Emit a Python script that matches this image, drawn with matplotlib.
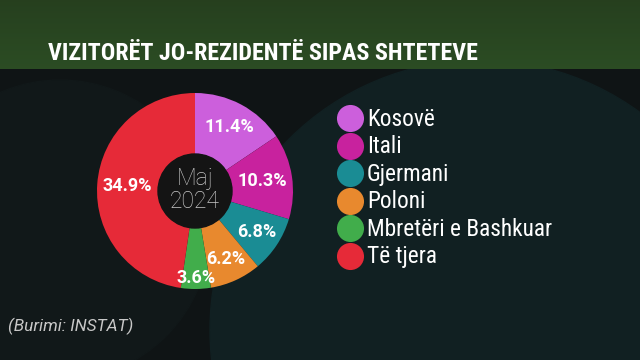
import matplotlib
matplotlib.use("Agg")
import matplotlib.pyplot as plt
import numpy as np
from matplotlib import font_manager
from matplotlib.patches import Circle, Rectangle

# data
countries = ["Kosovë", "Itali", "Gjermani", "Poloni", "Mbretëri e Bashkuar", "Të tjera"]
shares = [11.4, 10.3, 6.8, 6.2, 3.6, 34.9]
colors = ["#cc5fdc", "#c8229e", "#1a8c94", "#e8892e", "#41ad4b", "#e62a38"]
title = "VIZITORËT JO-REZIDENTË SIPAS SHTETEVE"
center_label = "Maj\n2024"
source = "(Burimi: INSTAT)"

names = {f.name for f in font_manager.fontManager.ttflist}
narrow = "Roboto"
for cand in ["Roboto Condensed", "Liberation Sans Narrow"]:
    if cand in names:
        narrow = cand
        break

fig = plt.figure(figsize=(6.4, 3.6), dpi=100)

# background drawn in pixel coordinates
bg = fig.add_axes([0, 0, 1, 1])
bg.axis("off")
bg.add_patch(Rectangle((0, 0), 640, 360, color="#0f1415", zorder=0))
bg.add_patch(Circle((480, 330), 270, color="#112022", zorder=0.5))
bg.add_patch(Circle((60, 230), 150, color="#111819", zorder=0.6))
grad = np.linspace(0, 1, 50)[:, None]
top = np.array([0.15, 0.25, 0.12])
bot = np.array([0.17, 0.30, 0.14])
img = top + grad[..., None] * (bot - top)
img = np.repeat(img, 2, axis=1)
bg.imshow(img, extent=(0, 640, 69, 0), aspect="auto", zorder=1)
bg.set_xlim(0, 640)
bg.set_ylim(360, 0)
bg.text(263, 53, title, color="white", fontsize=17.3, fontweight="bold",
        family=[narrow, "DejaVu Sans"], ha="center", va="center", zorder=2)
bg.text(8, 326, source, color="#c8c8c8", fontsize=12.4, style="italic",
        family=["Roboto", "DejaVu Sans"], ha="left", va="center", zorder=2)

# legend
for i, (name, c) in enumerate(zip(countries, colors)):
    y = 118 + i * 27.6
    bg.scatter([350], [y], s=380, color=c, zorder=3, linewidths=0)
    bg.text(367, y + 1, name, color="white", fontsize=16.8,
            family=[narrow, "DejaVu Sans"], ha="left", va="center", zorder=3)

# donut
ax = fig.add_axes([97 / 640, 71 / 360, 196 / 640, 196 / 360])
wedges, _ = ax.pie(shares, colors=colors, startangle=90, counterclock=False,
                   radius=1, wedgeprops=dict(width=1 - 37 / 98, linewidth=0))
ax.add_patch(Circle((0, 0), 37 / 98, color="#141414", zorder=3))
label_r = [0.74, 0.69, 0.76, 0.76, 0.89, 0.69]
for w, v, r in zip(wedges, shares, label_r):
    a = np.deg2rad((w.theta1 + w.theta2) / 2)
    ax.text(r * np.cos(a), r * np.sin(a), f"{v}%", color="white", fontsize=13,
            fontweight="bold", family=["Roboto", "DejaVu Sans"],
            ha="center", va="center", zorder=4)
ax.text(0, 0.01, center_label, color="#c8c8c8", fontsize=16.5, fontweight="light",
        family=["Roboto", "DejaVu Sans"], ha="center", va="center",
        linespacing=1.05, zorder=4)
ax.set_xlim(-1, 1)
ax.set_ylim(-1, 1)
ax.set_aspect("equal")
ax.axis("off")

fig.savefig("out.png", dpi=100, facecolor="#0f1415")
